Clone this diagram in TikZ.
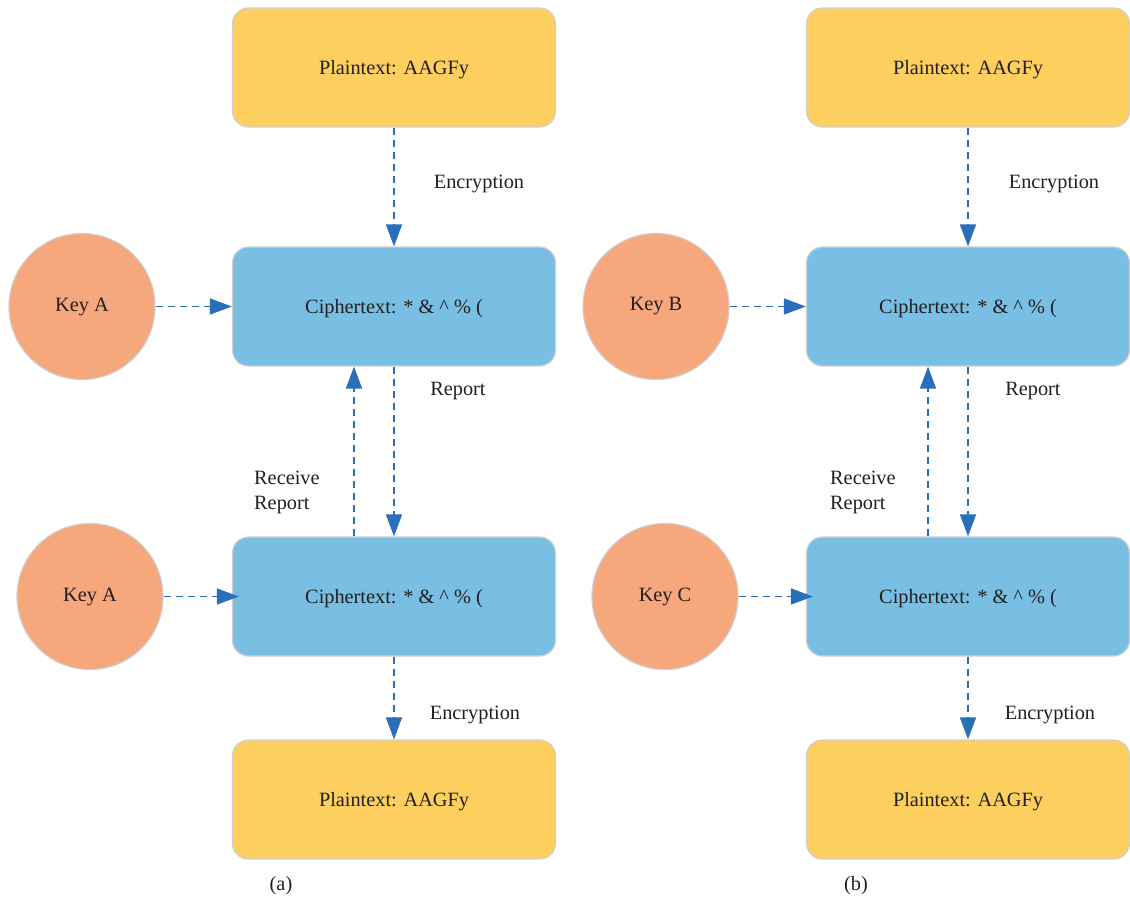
\documentclass[tikz,border=0pt]{standalone}
\usepackage{fontspec}
\setmainfont{Liberation Serif}
\usetikzlibrary{arrows.meta}
\definecolor{plainfill}{HTML}{FDCF5E}
\definecolor{cipherfill}{HTML}{79BFE3}
\definecolor{keyfill}{HTML}{F6A77B}
\definecolor{edgegray}{HTML}{CFCFCF}
\definecolor{linkblue}{HTML}{2B6FBA}
\definecolor{inktext}{HTML}{231F20}
\begin{document}
\begin{tikzpicture}[x=1pt,y=-1pt,
  font=\fontsize{20.3}{25}\selectfont, text=inktext,
  box/.style={rectangle, rounded corners=16pt, draw=edgegray, line width=1.2pt,
    minimum width=323pt, minimum height=119pt, inner sep=0pt,
    text depth=-2pt},
  plainbox/.style={box, fill=plainfill},
  cipherbox/.style={box, fill=cipherfill},
  keynode/.style={circle, draw=edgegray, line width=1.2pt, fill=keyfill,
    minimum size=146pt, inner sep=0pt},
  link/.style={draw=linkblue, line width=1.5pt, dash pattern=on 7pt off 5pt,
    -{Triangle[length=22pt,width=16pt]}},
  lbl/.style={inner sep=0pt}
]
\useasboundingbox (0,0) rectangle (1130,902);

% ---------- panel (a) ----------
\node[plainbox]  (pa1) at (394,67.5)  {Plaintext: AAGFy};
\node[cipherbox] (ca1) at (394,306.5) {Ciphertext: * \& \^{} \% (};
\node[cipherbox] (ca2) at (394,596.5) {Ciphertext: * \& \^{} \% (};
\node[plainbox]  (pa2) at (394,799.5) {Plaintext: AAGFy};
\node[keynode]   (ka1) at (82,306.5)  {Key A};
\node[keynode]   (ka2) at (90,596.5)  {Key A};

\draw[link] (pa1.south) -- (ca1.north);
\draw[link] (ka1.east) -- (ca1.west);
\draw[link] ([xshift=-40pt]ca2.north) -- ([xshift=-40pt]ca1.south);
\draw[link] (ca1.south) -- (ca2.north);
\draw[link, shorten >=-7pt] (ka2.east) -- (ca2.west);
\draw[link] (ca2.south) -- (pa2.north);

\node[lbl] (ea1) at (479,184) {Encryption};
\node[lbl] (ra1) at (458,391) {Report};
\node[lbl, anchor=west, align=left] (rra) at (254,492) {Receive\\Report};
\node[lbl] (ea2) at (475,715) {Encryption};
\node[lbl] (capa) at (281,886) {(a)};

% ---------- panel (b) ----------
\node[plainbox]  (pb1) at (968,67.5)  {Plaintext: AAGFy};
\node[cipherbox] (cb1) at (968,306.5) {Ciphertext: * \& \^{} \% (};
\node[cipherbox] (cb2) at (968,596.5) {Ciphertext: * \& \^{} \% (};
\node[plainbox]  (pb2) at (968,799.5) {Plaintext: AAGFy};
\node[keynode]   (kb1) at (656,306.5) {Key B};
\node[keynode]   (kb2) at (665,596.5) {Key C};

\draw[link] (pb1.south) -- (cb1.north);
\draw[link] (kb1.east) -- (cb1.west);
\draw[link] ([xshift=-40pt]cb2.north) -- ([xshift=-40pt]cb1.south);
\draw[link] (cb1.south) -- (cb2.north);
\draw[link, shorten >=-7pt] (kb2.east) -- (cb2.west);
\draw[link] (cb2.south) -- (pb2.north);

\node[lbl] (eb1) at (1054,184) {Encryption};
\node[lbl] (rb1) at (1033,391) {Report};
\node[lbl, anchor=west, align=left] (rrb) at (830,492) {Receive\\Report};
\node[lbl] (eb2) at (1050,715) {Encryption};
\node[lbl] (capb) at (856,886) {(b)};
\end{tikzpicture}
\end{document}
